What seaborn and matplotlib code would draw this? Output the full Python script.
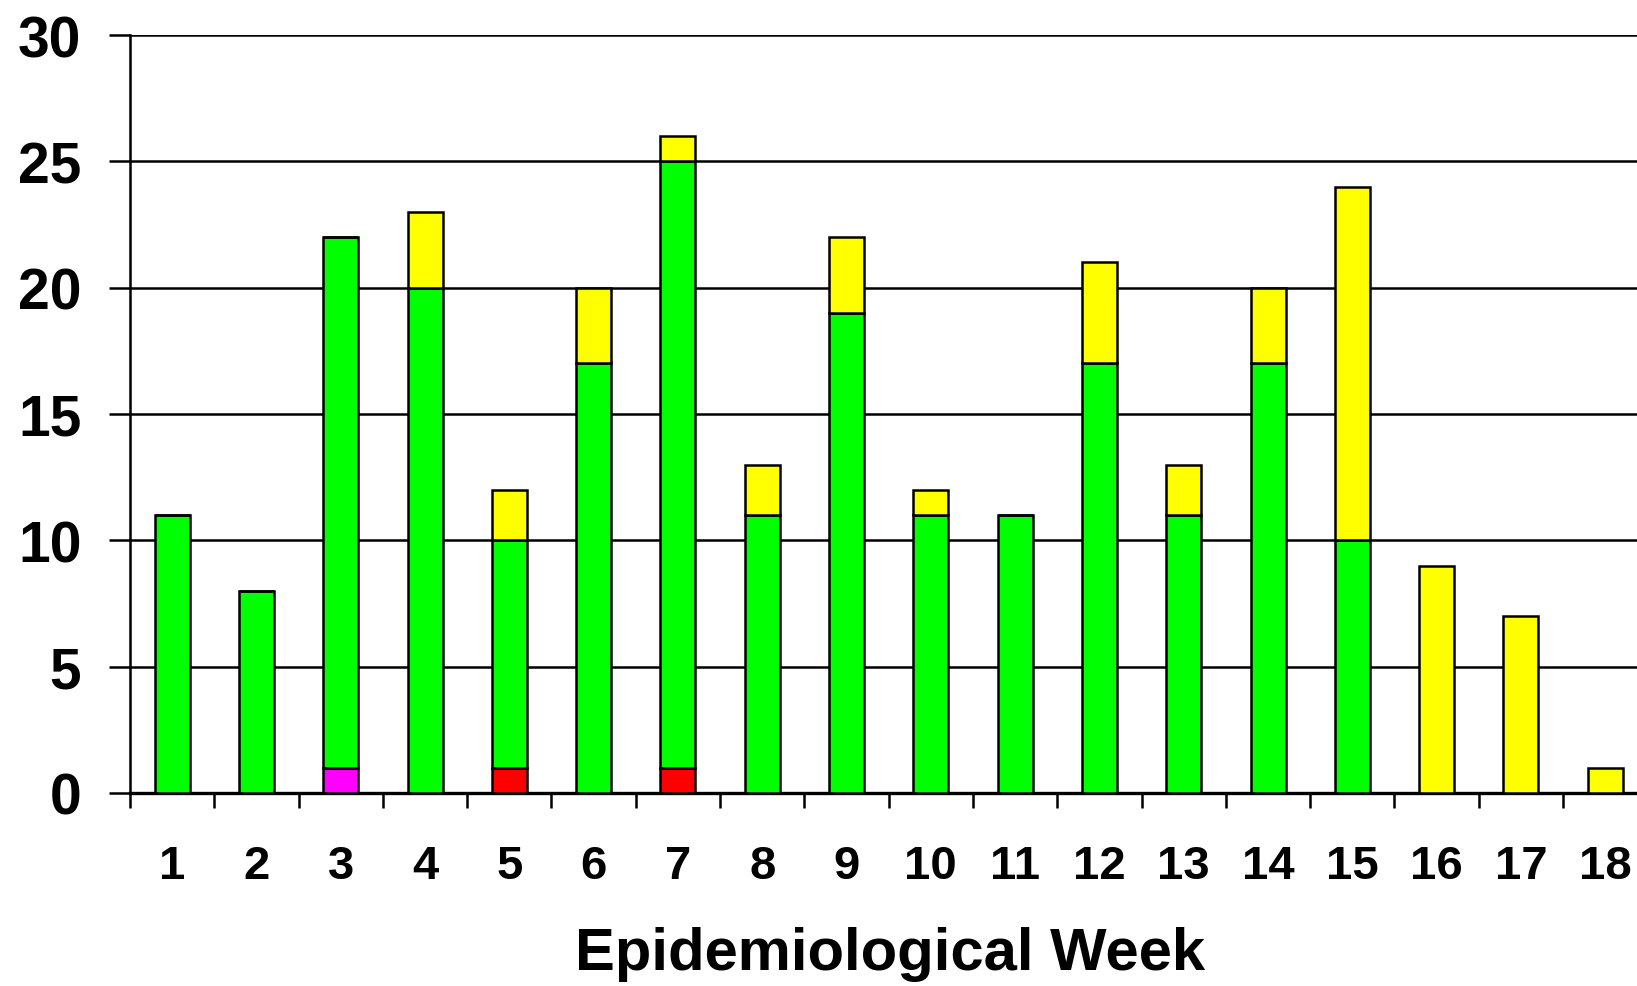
import numpy as np
import seaborn as sns
import matplotlib.pyplot as plt
from matplotlib.ticker import FixedLocator, NullFormatter

# Data
weeks = [str(w) for w in range(1, 19)]
magenta = [0, 0, 1, 0, 0, 0, 0, 0, 0, 0, 0, 0, 0, 0, 0, 0, 0, 0]
red = [0, 0, 0, 0, 1, 0, 1, 0, 0, 0, 0, 0, 0, 0, 0, 0, 0, 0]
green = [11, 8, 21, 20, 9, 17, 24, 11, 19, 11, 11, 17, 11, 17, 10, 0, 0, 0]
yellow = [0, 0, 0, 3, 2, 3, 1, 2, 3, 1, 0, 4, 2, 3, 14, 9, 7, 1]

sns.set_theme(style='white')
plt.rcParams['font.family'] = ['Liberation Sans', 'DejaVu Sans']
plt.rcParams['font.weight'] = 'bold'
plt.rcParams['text.color'] = 'black'
plt.rcParams['xtick.color'] = 'black'
plt.rcParams['ytick.color'] = 'black'
plt.rcParams['xtick.labelcolor'] = 'black'
plt.rcParams['ytick.labelcolor'] = 'black'

fig = plt.figure(figsize=(16.37, 9.87), dpi=100)
ax = fig.add_axes([130 / 1637, 1 - 794 / 987, 18 * 84.3 / 1637, (794 - 36) / 987])

layers = [(magenta, '#FF00FF'), (red, '#FF0000'), (green, '#00FF00'), (yellow, '#FFFF00')]
base = np.zeros(len(weeks))
for vals, col in layers:
    vals = np.array(vals, dtype=float)
    sns.barplot(x=weeks, y=vals, bottom=base, color=col, saturation=1,
                width=0.415, edgecolor='black', linewidth=1.8, ax=ax, zorder=3)
    base = base + vals

ax.set_xlim(-0.5, 17.5)
ax.set_ylim(0, 30)
ax.set_yticks(range(0, 31, 5))
ax.yaxis.grid(True, color='black', linewidth=1.8, zorder=0)
ax.set_axisbelow(True)

# category separators as major ticks, labels on minor ticks
ax.xaxis.set_major_locator(FixedLocator(np.arange(-0.5, 18, 1)))
ax.xaxis.set_major_formatter(NullFormatter())
ax.xaxis.set_minor_locator(FixedLocator(np.arange(0, 18)))
ax.set_xticklabels(weeks, minor=True, fontsize=34, fontweight='bold', color='black')
ax.tick_params(axis='x', which='major', direction='out', length=11, width=1.8, color='black', bottom=True)
ax.tick_params(axis='x', which='minor', length=0, pad=37)
ax.tick_params(axis='y', direction='out', length=15, width=1.8, color='black', left=True, pad=20,
               labelsize=41, labelcolor='black')
for lab in ax.get_yticklabels():
    lab.set_fontweight('bold')

for side in ['top', 'right']:
    ax.spines[side].set_visible(False)
ax.spines['left'].set_color('black')
ax.spines['left'].set_linewidth(1.8)
ax.spines['bottom'].set_color('black')
ax.spines['bottom'].set_linewidth(2.4)
ax.set_xlabel('')
ax.set_ylabel('')

fig.text(890 / 1637, 1 - 955 / 987, 'Epidemiological Week', ha='center', va='center',
         fontsize=43, fontweight='bold', color='black')

fig.savefig('out.png', dpi=100, facecolor='white')
